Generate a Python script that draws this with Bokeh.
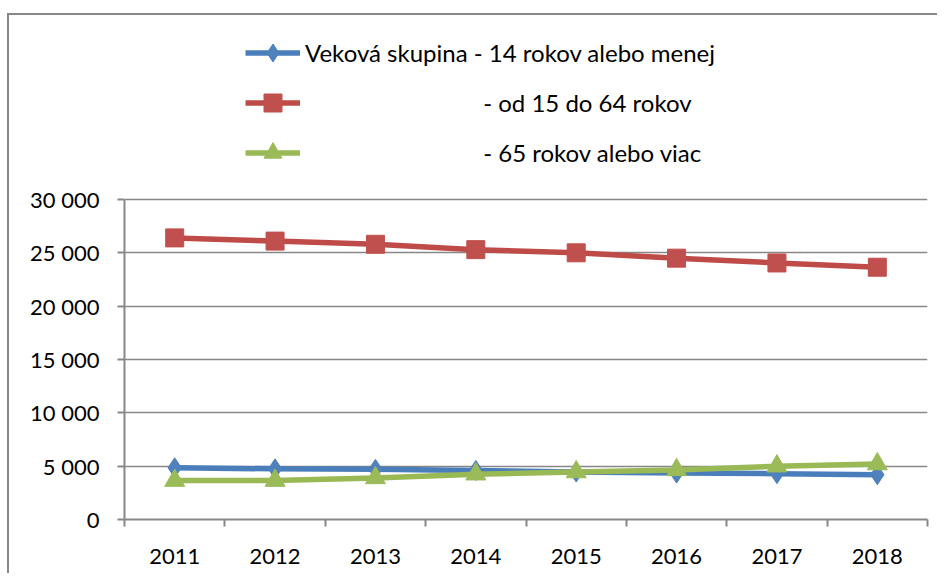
from bokeh.plotting import figure
from bokeh.models import Legend, LegendItem, FixedTicker, Range1d
from bokeh.embed import file_html
from bokeh.resources import INLINE

YEARS = ["2011", "2012", "2013", "2014", "2015", "2016", "2017", "2018"]
BLUE_VALUES = [4850, 4750, 4700, 4600, 4450, 4350, 4300, 4200]
RED_VALUES = [26400, 26100, 25800, 25300, 25000, 24500, 24050, 23650]
GREEN_VALUES = [3650, 3650, 3900, 4250, 4450, 4650, 5000, 5200]
Y_TICKS = [0, 5000, 10000, 15000, 20000, 25000, 30000]
Y_TICK_LABELS = ["0", "5 000", "10 000", "15 000", "20 000", "25 000", "30 000"]
SERIES_LABELS = [
    "Veková skupina - 14 rokov alebo menej",
    "- od 15 do 64 rokov",
    "- 65 rokov alebo viac",
]
PAD = "\u00a0" * 29
Y_VIEW_TOP = 46500  # headroom above the axis for the legend

FONT = "Lato"
GRAY = "#878787"
BLUE_LINE, BLUE_FILL = "#4a7ebb", "#4f81bd"
RED_LINE, RED_FILL = "#be4b48", "#c0504d"
GREEN_LINE, GREEN_FILL = "#98b954", "#9bbb59"

x_pos = [i + 0.5 for i in range(len(YEARS))]

p = figure(width=930, height=560, output_backend="svg", toolbar_location=None,
           x_range=Range1d(0, len(YEARS)), y_range=Range1d(Y_TICKS[0], Y_VIEW_TOP),
           min_border_left=115, min_border_right=12, min_border_top=8, min_border_bottom=56)
p.margin = (13, 0, 0, 7)
p.styles = {"border-left": "2px solid #888888", "border-top": "2px solid #888888"}
p.outline_line_color = None
p.background_fill_color = "white"
p.border_fill_color = "white"

p.xgrid.grid_line_color = None
p.ygrid.grid_line_color = GRAY
p.ygrid.grid_line_width = 1.5
p.ygrid.ticker = FixedTicker(ticks=Y_TICKS)

xa = p.xaxis[0]
xa.ticker = FixedTicker(ticks=x_pos, minor_ticks=list(range(len(YEARS) + 1)))
xa.major_label_overrides = {x: y for x, y in zip(x_pos, YEARS)}
xa.major_tick_line_color = None
xa.minor_tick_line_color = GRAY
xa.minor_tick_line_width = 2
xa.minor_tick_in = 0
xa.minor_tick_out = 7
xa.axis_line_color = GRAY
xa.axis_line_width = 2
xa.major_label_text_font = FONT
xa.major_label_text_font_size = "22px"
xa.major_label_text_color = "black"
xa.major_label_standoff = 22

ya = p.yaxis[0]
ya.ticker = FixedTicker(ticks=Y_TICKS)
ya.bounds = (Y_TICKS[0], Y_TICKS[-1])
ya.minor_tick_line_color = None
ya.major_label_overrides = {t: l for t, l in zip(Y_TICKS, Y_TICK_LABELS)}
ya.major_tick_line_color = GRAY
ya.major_tick_line_width = 2
ya.major_tick_in = 0
ya.major_tick_out = 7
ya.axis_line_color = GRAY
ya.axis_line_width = 2
ya.major_label_text_font = FONT
ya.major_label_text_font_size = "22px"
ya.major_label_text_color = "black"
ya.major_label_standoff = 18

lb = p.line(x_pos, BLUE_VALUES, line_color=BLUE_LINE, line_width=5.5)
sb = p.scatter(x_pos, BLUE_VALUES, marker="diamond", size=20, fill_color=BLUE_FILL, line_color=BLUE_FILL)
lr = p.line(x_pos, RED_VALUES, line_color=RED_LINE, line_width=5.5)
sr = p.scatter(x_pos, RED_VALUES, marker="square", size=18, fill_color=RED_FILL, line_color=RED_FILL)
lg = p.line(x_pos, GREEN_VALUES, line_color=GREEN_LINE, line_width=5.5)
sg = p.scatter(x_pos, GREEN_VALUES, marker="triangle", size=20, fill_color=GREEN_FILL, line_color=GREEN_FILL)

legend = Legend(items=[
    LegendItem(label=SERIES_LABELS[0], renderers=[lb, sb]),
    LegendItem(label=PAD + SERIES_LABELS[1], renderers=[lr, sr]),
    LegendItem(label=PAD + SERIES_LABELS[2], renderers=[lg, sg]),
], location=(121, 344), orientation="vertical", glyph_width=55, glyph_height=45,
    label_height=45, spacing=5, padding=0, margin=0, border_line_color=None,
    background_fill_alpha=0, label_text_font=FONT, label_text_font_size="24px",
    label_standoff=5, label_text_color="black", label_text_baseline="middle")
p.add_layout(legend)

open("out.html", "w").write(file_html(p, INLINE))
